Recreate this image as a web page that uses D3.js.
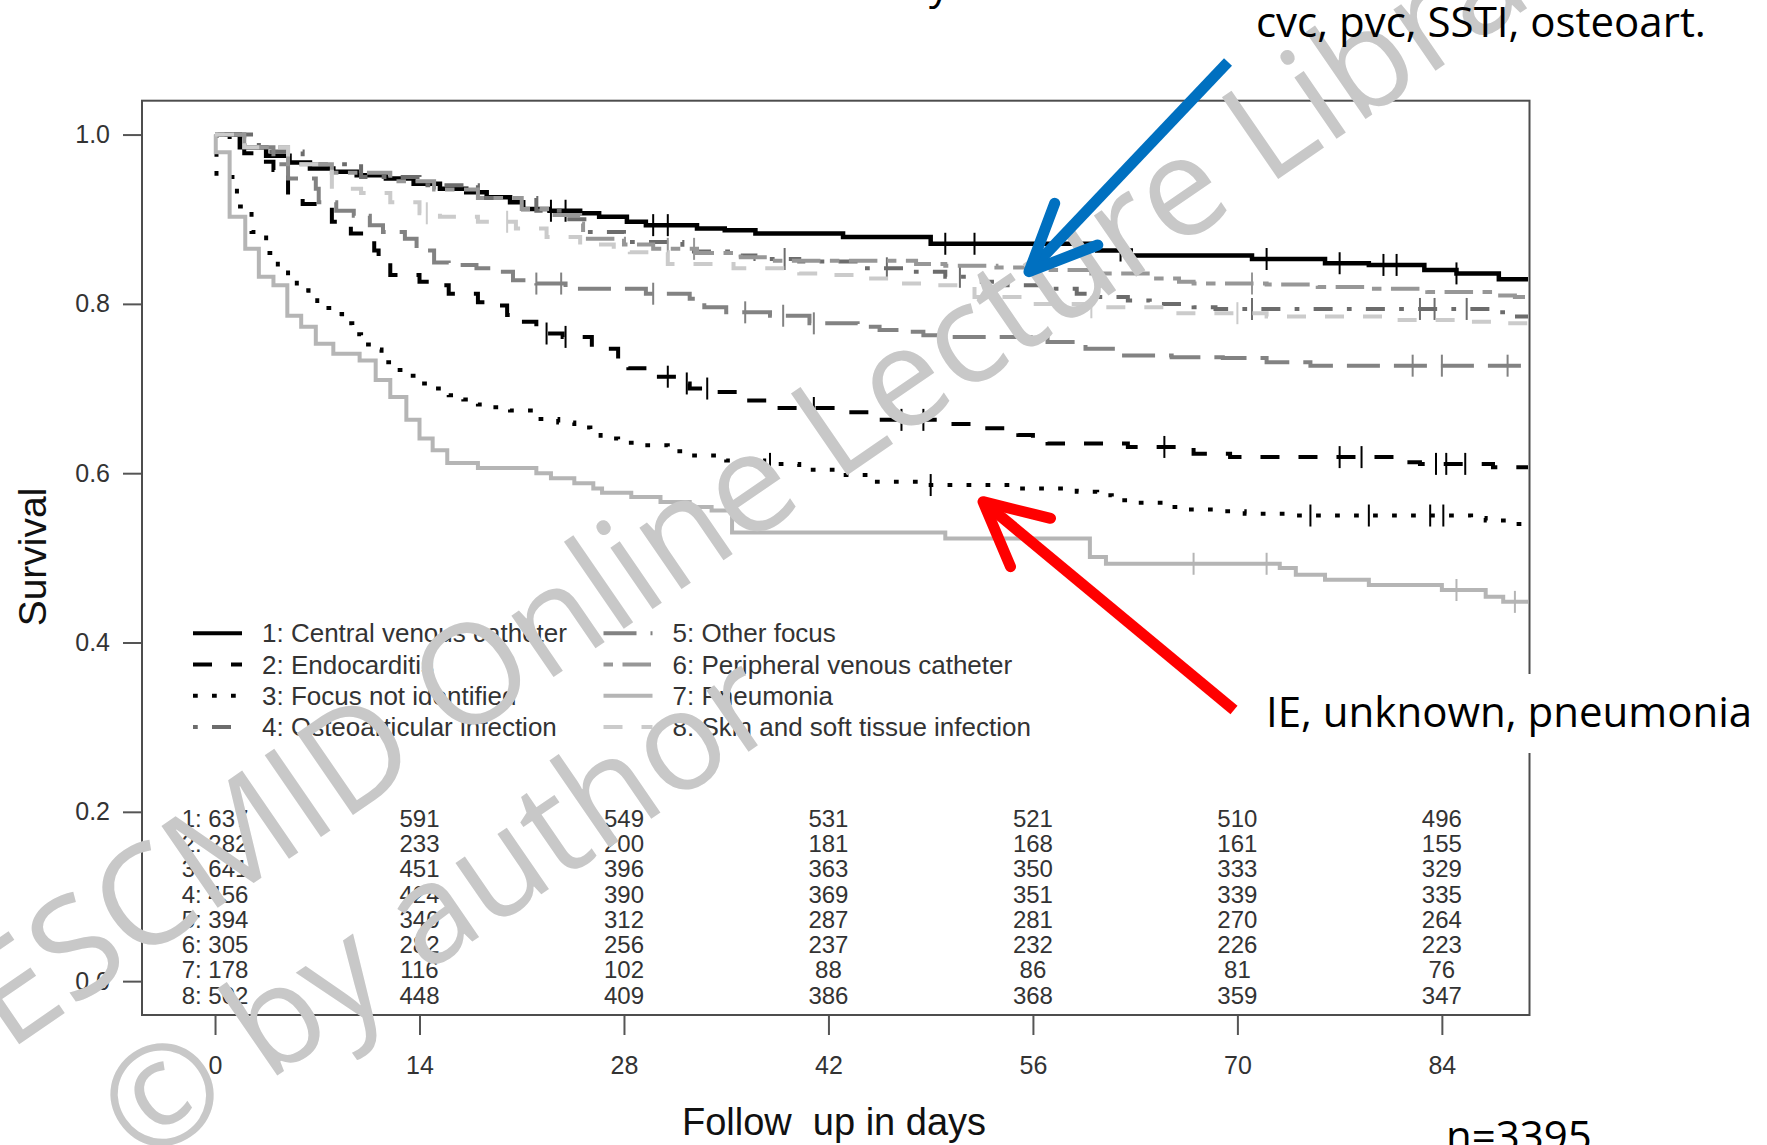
<!DOCTYPE html>
<html>
<head>
<meta charset="utf-8">
<script src="https://cdn.jsdelivr.net/npm/d3@7"></script>
<style>
  body { margin: 0; background: #fff; }
  svg { display: block; }
</style>
</head>
<body>
<div id="chart"></div>
<script>
// ---- data ----
const groupNames = ["1: Central venous catheter", "2: Endocarditis", "3: Focus not identified",
  "4: Osteoarticular infection", "5: Other focus", "6: Peripheral venous catheter",
  "7: Pneumonia", "8: Skin and soft tissue infection"];

// [day, survival] where the Kaplan-Meier step drops
const cvc = [[0,1],[1.7,0.985],[3.5,0.975],[5.1,0.967],[6.5,0.96],[8.1,0.956],[9.7,0.952],[11.7,0.948],
  [13.6,0.942],[15.4,0.936],[17.2,0.932],[18.6,0.926],[20.2,0.92],[21.1,0.912],[22.9,0.91],[25,0.907],
  [26.3,0.903],[28.2,0.897],[29.5,0.893],[33,0.889],[34.9,0.887],[37,0.883],[43,0.879],[49,0.871],
  [60.4,0.863],[62.7,0.857],[71,0.853],[76,0.848],[79,0.846],[82.8,0.84],[85,0.836],[87.9,0.829]];
const endo = [[0,1],[1,0.99],[2,0.978],[3,0.968],[4,0.958],[5,0.928],[6,0.918],[8,0.897],[9.3,0.883],
  [10,0.875],[10.9,0.863],[11.2,0.849],[12,0.834],[14,0.826],[15,0.822],[16,0.812],[18,0.802],[19,0.798],
  [20,0.787],[20.5,0.779],[22,0.773],[22.4,0.765],[23.8,0.761],[25.8,0.747],[27.6,0.733],[28.3,0.724],
  [29.4,0.714],[32,0.706],[32.5,0.7],[34,0.696],[36,0.686],[38.4,0.677],[43,0.672],[45.5,0.663],[50,0.658],
  [52.7,0.653],[53.9,0.649],[55,0.645],[56,0.641],[57,0.635],[62.5,0.631],[67,0.623],[69.5,0.619],
  [81,0.613],[82.5,0.611],[87.5,0.607]];
const unknown = [[0,1],[0.1,0.95],[1.5,0.915],[2.5,0.885],[3.5,0.86],[4.3,0.84],[5,0.83],[5.6,0.816],
  [6.4,0.808],[7,0.795],[8,0.788],[8.7,0.777],[9.4,0.764],[10,0.752],[11,0.746],[11.4,0.731],[12.3,0.722],
  [13,0.715],[14,0.706],[15,0.7],[16,0.692],[17,0.687],[18,0.681],[19,0.678],[20.2,0.674],[22,0.664],
  [23.5,0.66],[24.6,0.654],[25.7,0.65],[26.4,0.641],[27.6,0.636],[28.7,0.633],[31,0.626],[32,0.621],
  [35,0.615],[37.6,0.611],[40,0.604],[42.7,0.598],[45,0.59],[49,0.586],[55,0.582],[59,0.578],[60.4,0.574],
  [61.4,0.568],[63,0.565],[65,0.56],[66.5,0.557],[69,0.555],[70.5,0.552],[73.5,0.55],[86,0.547],
  [87,0.544],[88.5,0.54]];
const osteo = [[0,1],[3,0.98],[6,0.965],[10,0.95],[14,0.94],[18,0.925],[22,0.91],[24,0.9],[25.5,0.885],
  [28,0.873],[32,0.862],[36,0.857],[37,0.853],[40,0.85],[44,0.842],[47.5,0.838],[50,0.832],[52.5,0.826],
  [54,0.822],[57,0.818],[59,0.812],[60,0.808],[62.5,0.804],[64,0.8],[67,0.796],[68.5,0.794],[87.5,0.79],
  [88.5,0.785]];
const other = [[0,1],[2,0.985],[4,0.965],[5,0.948],[6.9,0.936],[7.1,0.92],[8.3,0.91],[9.5,0.904],
  [10.6,0.893],[11.5,0.885],[13,0.877],[13.8,0.863],[15,0.849],[16,0.846],[17.9,0.842],[19,0.838],
  [20.4,0.828],[22,0.824],[24,0.818],[29.5,0.812],[32.5,0.806],[33.5,0.796],[35,0.79],[38,0.786],
  [40.7,0.777],[44,0.773],[45.5,0.769],[47.3,0.767],[48.5,0.763],[50,0.761],[57,0.755],[59.6,0.747],
  [62,0.739],[65.5,0.737],[69,0.736],[72,0.731],[75,0.727]];
const pvc = [[0,1],[2,0.985],[5,0.965],[8,0.955],[12,0.945],[15,0.935],[18,0.925],[21,0.912],[23,0.905],
  [25,0.895],[25.2,0.877],[28,0.87],[30,0.865],[33,0.86],[36,0.855],[38,0.851],[48,0.847],[50,0.845],
  [53.5,0.843],[57,0.84],[60,0.836],[64,0.83],[66,0.826],[67,0.824],[72,0.823],[75.5,0.82],[79,0.818],
  [83,0.814],[87.5,0.81],[89,0.808]];
const pneumonia = [[0,1],[0.05,0.979],[1,0.903],[2.07,0.865],[3,0.832],[4,0.822],[4.95,0.786],[5.9,0.773],
  [6.9,0.753],[8.1,0.741],[9.9,0.733],[11,0.71],[12,0.69],[13.1,0.663],[14,0.641],[14.9,0.627],
  [15.9,0.612],[18,0.606],[22,0.6],[23,0.594],[24.6,0.588],[25.9,0.582],[26.5,0.577],[28.5,0.572],
  [30.5,0.566],[32.5,0.56],[34,0.556],[35.4,0.53],[50,0.523],[59.9,0.501],[61,0.493],[72.9,0.488],
  [74,0.48],[76,0.474],[79,0.468],[84,0.462],[87,0.454],[88.2,0.448]];
const ssti = [[0,1],[2,0.985],[5,0.965],[8,0.936],[10,0.931],[12,0.92],[14,0.907],[15.4,0.903],[18,0.897],
  [20.6,0.889],[22.7,0.879],[25,0.87],[27.3,0.864],[28.4,0.861],[31,0.847],[35.5,0.842],[40,0.836],
  [42,0.834],[44.5,0.83],[46.8,0.824],[49.5,0.822],[52,0.808],[56,0.8],[60,0.796],[65,0.789],[72,0.785],
  [80,0.781],[86,0.779],[88,0.777]];
const curves = [cvc, endo, unknown, osteo, other, pvc, pneumonia, ssti];
const lastDay = 89.9;

// censoring marks (days)
const censored = [
  [23, 24, 30, 31, 50, 52, 62, 72, 77, 80, 80.9, 85],
  [22.7, 24, 31, 32.3, 33.7, 41, 47, 48.5, 65, 77, 78.5, 83.6, 84.3, 85.6],
  [38, 49, 75, 79, 83.2, 84.1],
  [39, 46, 51, 71, 82.5, 83.5, 85.7],
  [22, 23.7, 30, 36.3, 38.9, 41, 82, 84, 88.5],
  [31, 32.8, 71],
  [67, 72, 85, 89],
  [14.5, 20, 60, 70]
];

// numbers at risk
const riskDays = [0, 14, 28, 42, 56, 70, 84];
const atRisk = [
  [637, 591, 549, 531, 521, 510, 496],
  [282, 233, 200, 181, 168, 161, 155],
  [641, 451, 396, 363, 350, 333, 329],
  [456, 424, 390, 369, 351, 339, 335],
  [394, 340, 312, 287, 281, 270, 264],
  [305, 282, 256, 237, 232, 226, 223],
  [178, 116, 102, 88, 86, 81, 76],
  [502, 448, 409, 386, 368, 359, 347]
];
const yTicks = [0, 0.2, 0.4, 0.6, 0.8, 1.0];

// ---- styles ----
const lineCol = ["#000", "#000", "#000", "#6c6c6c", "#828282", "#979797", "#b5b5b5", "#cbcbcb"];
const lineDash = [null, "19 19", "4.75 14.25", "4.75 14.25 19 14.25", "33 14", "9.5 9.5 28.5 9.5", null, "19 19"];
const rFont = "'Liberation Sans', Arial, Helvetica, sans-serif";
const slideFont = "'Open Sans', 'Noto Sans', sans-serif";

const W = 1767, H = 1145;
const svg = d3.select("#chart").append("svg")
  .attr("width", W).attr("height", H)
  .style("background", "#fff");

const x = d3.scaleLinear().domain([-5, 90]).range([142, 1529.5]);
const y = d3.scaleLinear().domain([-0.04, 1.04]).range([1015, 100.7]);

// axes
const yAxis = svg.append("g")
  .attr("transform", "translate(142,0)")
  .call(d3.axisLeft(y).tickValues(yTicks).tickFormat(d3.format(".1f")).tickSize(19).tickPadding(13));
const xAxis = svg.append("g")
  .attr("transform", "translate(0,1015)")
  .call(d3.axisBottom(x).tickValues(riskDays).tickSize(20).tickPadding(21));
[yAxis, xAxis].forEach(a => {
  a.select(".domain").remove();
  a.selectAll("line").attr("stroke", "#555").attr("stroke-width", 2);
  a.selectAll("text").attr("fill", "#333").style("font-family", rFont).style("font-size", "25px");
});

// survival curves
const stepLine = d3.line()
  .x(d => x(d[0]))
  .y(d => y(d[1]))
  .curve(d3.curveStepAfter);

function survAt(curve, t) {
  let s = curve[0][1];
  curve.forEach(p => { if (p[0] <= t) s = p[1]; });
  return s;
}

const plot = svg.append("g");
curves.forEach((c, i) => {
  const pts = c.concat([[lastDay, c[c.length - 1][1]]]);
  plot.append("path")
    .attr("d", stepLine(pts))
    .attr("fill", "none")
    .attr("stroke", lineCol[i])
    .attr("stroke-width", i == 0 ? 4.5 : 4)
    .attr("stroke-dasharray", lineDash[i]);
  plot.selectAll(null)
    .data(censored[i])
    .enter().append("line")
    .attr("x1", d => x(d)).attr("x2", d => x(d))
    .attr("y1", d => y(survAt(c, d)) - 11)
    .attr("y2", d => y(survAt(c, d)) + 11)
    .attr("stroke", lineCol[i])
    .attr("stroke-width", 2);
});

// frame
svg.append("rect")
  .attr("x", 142).attr("y", 100.7)
  .attr("width", 1529.5 - 142).attr("height", 1015 - 100.7)
  .attr("fill", "none").attr("stroke", "#4d4d4d").attr("stroke-width", 2);

// legend
const legend = svg.append("g");
groupNames.forEach((name, i) => {
  const col = Math.floor(i / 4), row = i % 4;
  const lx = col == 0 ? 193 : 603.5;
  const ly = 633.3 + row * 31.2;
  legend.append("line")
    .attr("x1", lx).attr("x2", lx + 49).attr("y1", ly).attr("y2", ly)
    .attr("stroke", lineCol[i]).attr("stroke-width", 4)
    .attr("stroke-dasharray", lineDash[i]);
  legend.append("text")
    .attr("x", lx + 69).attr("y", ly).attr("dy", "0.35em")
    .attr("fill", "#333")
    .style("font-family", rFont).style("font-size", "26px")
    .text(name);
});

// numbers at risk table
const table = svg.append("g");
atRisk.forEach((row, i) => {
  row.forEach((n, j) => {
    table.append("text")
      .attr("x", x(riskDays[j]))
      .attr("y", 818.3 + i * 25.25)
      .attr("dy", "0.36em")
      .attr("text-anchor", "middle")
      .attr("fill", "#333")
      .style("font-family", rFont).style("font-size", "24px")
      .text(j == 0 ? (i + 1) + ": " + n : n);
  });
});

// axis titles
svg.append("text")
  .attr("x", 834).attr("y", 1135)
  .attr("text-anchor", "middle")
  .attr("fill", "#111")
  .style("font-family", rFont).style("font-size", "38px")
  .style("white-space", "pre")
  .text("Follow  up in days");
svg.append("text")
  .attr("transform", "translate(46,557) rotate(-90)")
  .attr("text-anchor", "middle")
  .attr("fill", "#111")
  .style("font-family", rFont).style("font-size", "39px")
  .text("Survival");

// watermark
const wm = svg.append("g")
  .attr("transform", "translate(8,1052) rotate(-34.5)")
  .attr("fill", "#c8c8c8")
  .style("font-family", slideFont).style("font-size", "139px");
wm.append("text").attr("x", 0).attr("y", 0).text("ESCMID Online Lecture Library");
wm.append("text").attr("x", 45).attr("y", 172).text("\u00a9 by author");

// slide annotations
svg.append("rect").attr("x", 1255).attr("y", 674).attr("width", 512).attr("height", 79).attr("fill", "#fff");
const note = svg.append("g").attr("fill", "#000")
  .style("font-family", slideFont).style("font-size", "42px");
note.append("text").attr("x", 1256).attr("y", 37).text("cvc, pvc, SSTI, osteoart.");
note.append("text").attr("x", 1266).attr("y", 727).text("IE, unknown, pneumonia");
note.append("text").attr("x", 1446).attr("y", 1151).text("n=3395");
note.append("text").attr("x", 929).attr("y", -1).text("y");

// arrows
const arrows = [
  { col: "#0070c0", shaft: [[1228, 62], [1029, 271.7]], head: [[1054.7, 203.3], [1029, 271.7], [1097.8, 245]] },
  { col: "#ff0000", shaft: [[1234, 710], [983, 501.7]], head: [[1050.5, 518.3], [983, 501.7], [1010.5, 566.7]] }
];
arrows.forEach(a => {
  svg.append("path")
    .attr("d", d3.line()(a.shaft))
    .attr("stroke", a.col).attr("stroke-width", 11).attr("fill", "none");
  svg.append("path")
    .attr("d", d3.line()(a.head))
    .attr("stroke", a.col).attr("stroke-width", 11).attr("fill", "none")
    .attr("stroke-linecap", "round").attr("stroke-linejoin", "round");
});
</script>
</body>
</html>
